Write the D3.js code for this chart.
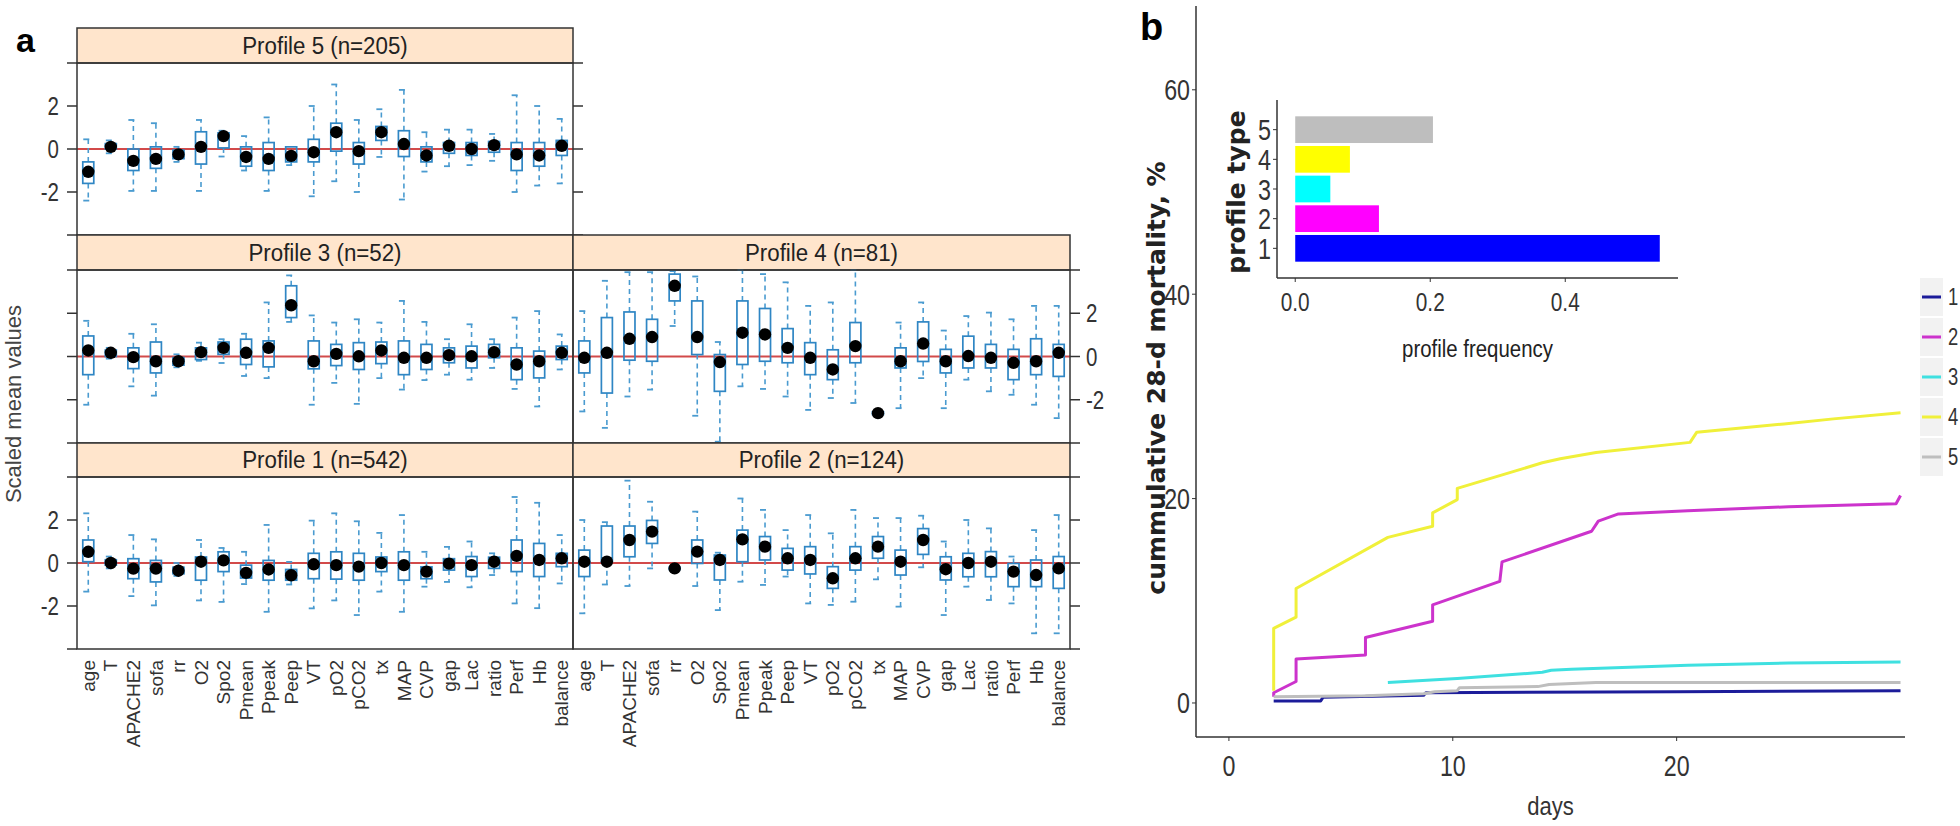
<!DOCTYPE html>
<html><head><meta charset="utf-8">
<script src="https://cdn.jsdelivr.net/npm/d3@7"></script>
<style>
body{margin:0;background:#fff;}
svg{display:block;}
</style></head><body>
<svg id="c" width="1960" height="826"></svg>
<script>
// ---------------- DATA ----------------
const variables = ["age","T","APACHE2","sofa","rr","O2","Spo2","Pmean","Ppeak","Peep","VT","pO2","pCO2","tx","MAP","CVP","gap","Lac","ratio","Perf","Hb","balance"];
const profileLabels = ["Profile 5 (n=205)","Profile 3 (n=52)","Profile 4 (n=81)","Profile 1 (n=542)","Profile 2 (n=124)"];
const yTicksA = [-4,-2,0,2,4];
const yTickLabelsA = [-2,0,2];

// Profile 5
const p5Lo  = [-2.4,-0.2,-1.95,-1.95,-0.6,-1.95,-0.35,-1.0,-1.95,-0.75,-2.2,-1.5,-2.0,-0.37,-2.35,-1.05,-0.8,-0.75,-0.55,-2.0,-1.7,-1.6];
const p5Q1  = [-1.6,0.0,-1.0,-0.9,-0.45,-0.7,0.05,-0.8,-1.0,-0.6,-0.6,-0.1,-0.7,0.4,-0.35,-0.6,-0.2,-0.3,-0.15,-1.0,-0.8,-0.3];
const p5Med = [-1.06,0.1,-0.55,-0.46,-0.25,0.1,0.6,-0.37,-0.46,-0.32,-0.15,0.78,-0.1,0.78,0.23,-0.3,0.15,0.0,0.18,-0.25,-0.3,0.15];
const p5Q3  = [-0.6,0.25,0.0,0.1,-0.05,0.8,0.75,0.1,0.3,0.1,0.45,1.2,0.3,1.05,0.85,0.1,0.3,0.3,0.35,0.3,0.3,0.4];
const p5Hi  = [0.45,0.4,1.35,1.2,0.1,1.35,0.85,0.6,1.47,0.1,2.0,3.0,1.35,1.85,2.75,0.78,0.9,0.9,0.7,2.5,2.0,1.4];
// Profile 3
const p3Lo  = [-2.23,-0.1,-1.38,-1.81,-0.5,-0.2,-0.3,-0.9,-1.0,1.6,-2.23,-1.22,-2.19,-1.0,-1.53,-1.09,-0.84,-1.07,-0.53,-1.5,-2.31,-0.6];
const p3Q1  = [-0.84,0.0,-0.56,-0.76,-0.4,-0.14,0.1,-0.37,-0.48,1.8,-0.57,-0.42,-0.6,-0.33,-0.84,-0.6,-0.29,-0.53,-0.06,-1.07,-0.99,-0.14];
const p3Med = [0.28,0.17,-0.03,-0.22,-0.22,0.2,0.4,0.17,0.4,2.37,-0.22,0.12,0.01,0.28,-0.06,-0.06,0.06,0.01,0.2,-0.37,-0.22,0.17];
const p3Q3  = [0.95,0.3,0.4,0.67,-0.05,0.4,0.67,0.8,0.72,3.27,0.72,0.56,0.64,0.67,0.72,0.56,0.4,0.48,0.56,0.4,0.25,0.48];
const p3Hi  = [1.65,0.4,1.05,1.49,0.1,0.64,0.8,1.05,2.5,3.75,1.9,1.57,1.72,1.57,2.57,1.6,0.8,1.49,0.8,1.8,2.1,1.02];
// Profile 4
const p4Lo  = [-2.54,-3.3,-1.85,-1.53,1.41,-2.74,-3.94,-1.38,-1.5,-1.85,-2.47,-1.92,-2.15,-2.7,-2.39,-1.0,-2.39,-1.07,-1.61,-1.77,-2.23,-2.85];
const p4Q1  = [-0.76,-1.69,-0.17,-0.22,2.57,0.09,-1.61,-0.37,-0.22,-0.29,-0.84,-1.07,-0.29,-2.68,-0.53,-0.23,-0.76,-0.53,-0.53,-1.07,-0.84,-0.92];
const p4Med = [-0.06,0.17,0.82,0.9,3.27,0.9,-0.26,1.1,1.02,0.4,-0.06,-0.6,0.48,-2.62,-0.22,0.6,-0.22,0.02,-0.06,-0.29,-0.22,0.17];
const p4Q3  = [0.72,1.8,2.06,1.72,3.81,2.57,0.09,2.57,2.22,1.29,0.64,0.31,1.57,-2.56,0.4,1.6,0.33,0.94,0.56,0.33,0.82,0.56];
const p4Hi  = [2.1,3.5,3.9,3.9,3.95,3.7,0.67,4.0,3.81,3.43,2.34,2.5,4.0,-2.5,1.57,2.5,1.2,1.87,2.03,1.72,2.34,2.34];
// Profile 1
const p1Lo  = [-1.33,-0.25,-1.54,-1.97,-0.6,-1.74,-1.81,-0.98,-2.27,-1.0,-2.11,-1.74,-2.42,-1.33,-2.27,-1.1,-0.88,-1.13,-0.56,-1.88,-2.1,-0.95];
const p1Q1  = [0.06,-0.1,-0.73,-0.88,-0.5,-0.8,-0.4,-0.7,-0.8,-0.8,-0.73,-0.75,-0.8,-0.4,-0.8,-0.73,-0.33,-0.63,-0.25,-0.4,-0.63,-0.17];
const p1Med = [0.52,0.0,-0.26,-0.26,-0.36,0.06,0.12,-0.46,-0.3,-0.57,-0.06,-0.1,-0.17,0.0,-0.1,-0.4,-0.03,-0.1,0.06,0.33,0.14,0.22];
const p1Q3  = [1.07,0.15,0.2,0.12,-0.2,0.28,0.52,-0.1,0.12,-0.3,0.45,0.52,0.45,0.28,0.52,-0.18,0.2,0.3,0.27,1.07,0.91,0.45];
const p1Hi  = [2.31,0.3,1.3,1.1,0.0,1.07,0.7,0.52,1.77,0.05,1.97,2.31,1.94,1.4,2.23,0.52,0.75,1.0,0.45,3.07,2.8,1.3];
// Profile 2
const p2Lo  = [-2.34,-1.0,-1.07,-0.25,-0.35,-1.07,-2.19,-0.87,-1.02,-0.63,-1.88,-1.95,-1.8,-0.76,-2.03,-0.2,-2.42,-1.1,-1.72,-1.88,-3.27,-3.27];
const p2Q1  = [-0.63,0.06,0.29,0.91,-0.3,-0.02,-0.79,0.06,0.14,-0.33,-0.51,-1.18,-0.33,0.22,-0.56,0.4,-0.79,-0.64,-0.64,-1.1,-1.1,-1.18];
const p2Med = [0.06,0.06,1.07,1.46,-0.25,0.53,0.14,1.1,0.76,0.22,0.14,-0.71,0.22,0.76,0.06,1.07,-0.29,0.0,0.06,-0.4,-0.56,-0.25];
const p2Q3  = [0.6,1.72,1.72,1.98,-0.2,1.07,0.37,1.53,1.23,0.68,0.76,-0.17,0.76,1.23,0.6,1.6,0.29,0.45,0.53,-0.02,0.14,0.3];
const p2Hi  = [2.0,1.9,3.83,2.85,-0.15,2.39,0.48,3.0,2.47,1.53,2.23,1.38,2.47,2.09,2.09,2.2,1.0,2.0,1.61,0.3,1.53,2.23];

// Panel b: cumulative mortality curves
const curveNames = ["1","2","3","4","5"];
const days1 = [2,4.1,4.2,8.7,8.8,20,30];
const vals1 = [0.2,0.2,0.55,0.75,1.0,1.1,1.2];
const days2 = [2,2,3,3,6.1,6.1,9.1,9.1,12.1,12.2,16.2,16.5,17.4,20.5,25,29.8,30];
const vals2 = [0.6,1.0,2.1,4.3,4.7,6.4,8.0,9.6,11.9,13.8,16.8,17.8,18.5,18.8,19.2,19.5,20.3];
const days3 = [7.1,10.2,14,14.4,15.3,20.5,25,30];
const vals3 = [2.0,2.4,3.0,3.2,3.3,3.7,3.9,4.0];
const days4 = [2,2,3,3,7.1,9.1,9.1,10.2,10.2,14,14.8,16.4,20.6,20.9,24.8,27,30];
const vals4 = [1.2,7.3,8.4,11.2,16.2,17.3,18.6,19.9,21.0,23.5,23.9,24.5,25.5,26.5,27.3,27.8,28.4];
const days5 = [2,6.1,8.7,9.2,10.2,10.3,13.8,14.3,16.4,30];
const vals5 = [0.6,0.7,0.9,1.1,1.2,1.5,1.6,1.8,2.0,2.0];
const xTicksB = [0,10,20];
const yTicksB = [0,20,40,60];

// Inset: profile frequency
const profileTypes = ["1","2","3","4","5"];
const profileFreq = [0.540,0.124,0.052,0.081,0.204];
const freqTicks = [0.0,0.2,0.4];

// ---------------- STYLE ----------------
const SANS = "'Liberation Sans',Arial,sans-serif";
const BOLDF = "'DejaVu Sans',sans-serif";
const BOXC = "#2f86c4", WHC = "#4a9bd0";
const lineColors = ["#1c1c9a","#cc33cc","#3fe0e0","#f0f03a","#bebebe"];
const barColors = ["#0000ff","#ff00ff","#00ffff","#ffff00","#bebebe"];

const svg = d3.select("#c");

// condensed text helper (no narrow font installed: scale horizontally)
function ntext(g, x, y, txt, size, anchor, sx, fill, dy) {
  const t = g.append("g").attr("transform",`translate(${x},${y}) scale(${sx},1)`)
    .append("text").attr("x",0).attr("y",0).attr("text-anchor",anchor||"start")
    .attr("font-family",SANS).attr("font-size",size).attr("fill",fill||"#333").text(txt);
  if (dy) t.attr("dy",dy);
  return t;
}

// ---------------- PANEL A ----------------
const colX = [[77,573],[573,1070]];
const rows = [{strip:28,top:63,bottom:235},{strip:235,top:270,bottom:443},{strip:443,top:477,bottom:649}];
const panels = [
  {label:profileLabels[0], col:0,row:0, lo:p5Lo,q1:p5Q1,med:p5Med,q3:p5Q3,hi:p5Hi, leftLab:true, rightTick:true, rightLab:false},
  {label:profileLabels[1], col:0,row:1, lo:p3Lo,q1:p3Q1,med:p3Med,q3:p3Q3,hi:p3Hi, leftLab:false, rightTick:false},
  {label:profileLabels[2], col:1,row:1, lo:p4Lo,q1:p4Q1,med:p4Med,q3:p4Q3,hi:p4Hi, rightTick:true, rightLab:true},
  {label:profileLabels[3], col:0,row:2, lo:p1Lo,q1:p1Q1,med:p1Med,q3:p1Q3,hi:p1Hi, leftLab:true, rightTick:false},
  {label:profileLabels[4], col:1,row:2, lo:p2Lo,q1:p2Q1,med:p2Med,q3:p2Q3,hi:p2Hi, rightTick:true, rightLab:false}
];

const gA = svg.append("g");
panels.forEach(p => {
  const [x0,x1] = colX[p.col];
  const r = rows[p.row];
  const x = d3.scaleBand().domain(variables).range([x0,x1]);
  const y = d3.scaleLinear().domain([-4,4]).range([r.bottom,r.top]);
  const g = gA.append("g");
  // strip
  g.append("rect").attr("x",x0).attr("y",r.strip).attr("width",x1-x0).attr("height",r.top-r.strip)
    .attr("fill","#ffe5cc").attr("stroke","#333").attr("stroke-width",1.5);
  ntext(g,(x0+x1)/2,(r.strip+r.top)/2+8,p.label,24,"middle",0.93,"#222");
  // reference line
  g.append("line").attr("x1",x0).attr("x2",x1).attr("y1",y(0)).attr("y2",y(0))
    .attr("stroke","#d24a4a").attr("stroke-width",2);
  // boxes
  variables.forEach((v,i) => {
    const cx = x(v) + x.bandwidth()/2;
    const bw = 11;
    const wg = g.append("g");
    if (p.hi[i] > p.q3[i]) {
      wg.append("line").attr("x1",cx).attr("x2",cx).attr("y1",y(p.q3[i])).attr("y2",y(p.hi[i]))
        .attr("stroke",WHC).attr("stroke-width",1.6).attr("stroke-dasharray","5,4");
      wg.append("line").attr("x1",cx-5).attr("x2",cx+1).attr("y1",y(p.hi[i])).attr("y2",y(p.hi[i]))
        .attr("stroke",WHC).attr("stroke-width",1.8);
    }
    if (p.lo[i] < p.q1[i]) {
      wg.append("line").attr("x1",cx).attr("x2",cx).attr("y1",y(p.q1[i])).attr("y2",y(p.lo[i]))
        .attr("stroke",WHC).attr("stroke-width",1.6).attr("stroke-dasharray","5,4");
      wg.append("line").attr("x1",cx-5).attr("x2",cx+1).attr("y1",y(p.lo[i])).attr("y2",y(p.lo[i]))
        .attr("stroke",WHC).attr("stroke-width",1.8);
    }
    wg.append("rect").attr("x",cx-bw/2).attr("y",y(p.q3[i])).attr("width",bw)
      .attr("height",Math.max(0,y(p.q1[i])-y(p.q3[i])))
      .attr("fill","none").attr("stroke",BOXC).attr("stroke-width",1.7);
    wg.append("circle").attr("cx",cx).attr("cy",y(p.med[i])).attr("r",6.2).attr("fill","#000");
  });
  // panel border
  g.append("rect").attr("x",x0).attr("y",r.top).attr("width",x1-x0).attr("height",r.bottom-r.top)
    .attr("fill","none").attr("stroke","#333").attr("stroke-width",1.5);
  // ticks
  if (p.col===0) {
    yTicksA.forEach(t => g.append("line").attr("x1",x0-10).attr("x2",x0).attr("y1",y(t)).attr("y2",y(t))
      .attr("stroke","#333").attr("stroke-width",1.5));
    if (p.leftLab) yTickLabelsA.forEach(t => ntext(g,x0-18,y(t),t,25,"end",0.82,"#333","0.36em"));
  }
  if (p.rightTick) {
    yTicksA.forEach(t => g.append("line").attr("x1",x1).attr("x2",x1+10).attr("y1",y(t)).attr("y2",y(t))
      .attr("stroke","#333").attr("stroke-width",1.5));
    if (p.rightLab) yTickLabelsA.forEach(t => ntext(g,x1+16,y(t),t,25,"start",0.82,"#333","0.36em"));
  }
  // x labels (bottom row only)
  if (p.row===2) {
    variables.forEach(v => {
      const cx = x(v) + x.bandwidth()/2;
      g.append("text").attr("transform",`translate(${cx},${r.bottom+11}) rotate(-90)`)
        .attr("dy","0.35em").attr("text-anchor","end").attr("font-family",SANS).attr("font-size",19)
        .attr("fill","#333").text(v);
    });
  }
});
gA.append("text").attr("transform","translate(21,404) rotate(-90)").attr("text-anchor","middle")
  .attr("font-family",SANS).attr("font-size",22).attr("fill","#444").text("Scaled mean values");
svg.append("text").attr("x",16).attr("y",52).attr("font-family",SANS).attr("font-weight","bold")
  .attr("font-size",34).attr("fill","#000").text("a");

// ---------------- PANEL B ----------------
const bx = d3.scaleLinear().domain([-1.47,30.2]).range([1196,1905]);
const by = d3.scaleLinear().domain([-3.33,68.2]).range([737,6]);
const gB = svg.append("g");
svg.append("text").attr("x",1140).attr("y",40).attr("font-family",SANS).attr("font-weight","bold")
  .attr("font-size",38).attr("fill","#000").text("b");

// axes
gB.append("line").attr("x1",bx.range()[0]).attr("x2",bx.range()[0]).attr("y1",by.range()[1]).attr("y2",by.range()[0])
  .attr("stroke","#333").attr("stroke-width",1.5);
gB.append("line").attr("x1",bx.range()[0]).attr("x2",bx.range()[1]).attr("y1",by.range()[0]).attr("y2",by.range()[0])
  .attr("stroke","#333").attr("stroke-width",1.5);
yTicksB.forEach(t => {
  gB.append("line").attr("x1",bx.range()[0]-4).attr("x2",bx.range()[0]).attr("y1",by(t)).attr("y2",by(t)).attr("stroke","#333");
  ntext(gB,bx.range()[0]-6,by(t),t,29,"end",0.8,"#333","0.36em");
});
xTicksB.forEach(t => {
  gB.append("line").attr("x1",bx(t)).attr("x2",bx(t)).attr("y1",by.range()[0]).attr("y2",by.range()[0]+4).attr("stroke","#333");
  ntext(gB,bx(t),by.range()[0]+39,t,29,"middle",0.8,"#333");
});
ntext(gB,(bx.range()[0]+bx.range()[1])/2,815,"days",26,"middle",0.85,"#333");
gB.append("text").attr("transform","translate(1165,378) rotate(-90)").attr("text-anchor","middle")
  .attr("font-family",BOLDF).attr("font-weight","bold").attr("font-size",25)
  .attr("fill","#222").text("cummulative 28-d mortality, %");

// lines
const curves = [d3.zip(days1,vals1),d3.zip(days2,vals2),d3.zip(days3,vals3),d3.zip(days4,vals4),d3.zip(days5,vals5)];
const line = d3.line().x(d=>bx(d[0])).y(d=>by(d[1]));
curves.forEach((c,i) => {
  gB.append("path").attr("d",line(c)).attr("fill","none").attr("stroke",lineColors[i])
    .attr("stroke-width",3).attr("stroke-linejoin","round");
});

// legend
const legG = gB.append("g");
curveNames.forEach((n,i) => {
  const cy = 297 + i*40;
  legG.append("rect").attr("x",1920).attr("y",cy-19).attr("width",23).attr("height",38).attr("fill","#f2f2f2");
  legG.append("line").attr("x1",1922).attr("x2",1941).attr("y1",cy).attr("y2",cy)
    .attr("stroke",lineColors[i]).attr("stroke-width",3);
  ntext(legG,1948,cy,n,23,"start",0.8,"#333","0.36em");
});

// inset bar chart
const ix = d3.scaleLinear().domain([-0.027,0.567]).range([1277,1678]);
const iy = d3.scaleBand().domain(profileTypes).range([278,100]).paddingInner(0.1).paddingOuter(0.55);
const gI = gB.append("g");
profileTypes.forEach((t,i) => {
  gI.append("rect").attr("x",ix(0)).attr("y",iy(t)).attr("width",ix(profileFreq[i])-ix(0))
    .attr("height",iy.bandwidth()).attr("fill",barColors[i]);
});
gI.append("line").attr("x1",1277).attr("x2",1277).attr("y1",100).attr("y2",278).attr("stroke","#333").attr("stroke-width",1.5);
gI.append("line").attr("x1",1277).attr("x2",1678).attr("y1",278).attr("y2",278).attr("stroke","#333").attr("stroke-width",1.5);
profileTypes.forEach(t => {
  const cy = iy(t)+iy.bandwidth()/2;
  gI.append("line").attr("x1",1273).attr("x2",1277).attr("y1",cy).attr("y2",cy).attr("stroke","#333");
  ntext(gI,1271,cy,t,30,"end",0.78,"#333","0.36em");
});
freqTicks.forEach(t => {
  gI.append("line").attr("x1",ix(t)).attr("x2",ix(t)).attr("y1",278).attr("y2",282).attr("stroke","#333");
  ntext(gI,ix(t),311,t.toFixed(1),26,"middle",0.8,"#333");
});
ntext(gI,(1277+1678)/2,357,"profile frequency",24,"middle",0.85,"#222");
gI.append("text").attr("transform","translate(1245,192) rotate(-90)").attr("text-anchor","middle")
  .attr("font-family",BOLDF).attr("font-weight","bold").attr("font-size",25)
  .attr("fill","#222").text("profile type");
</script></body></html>
